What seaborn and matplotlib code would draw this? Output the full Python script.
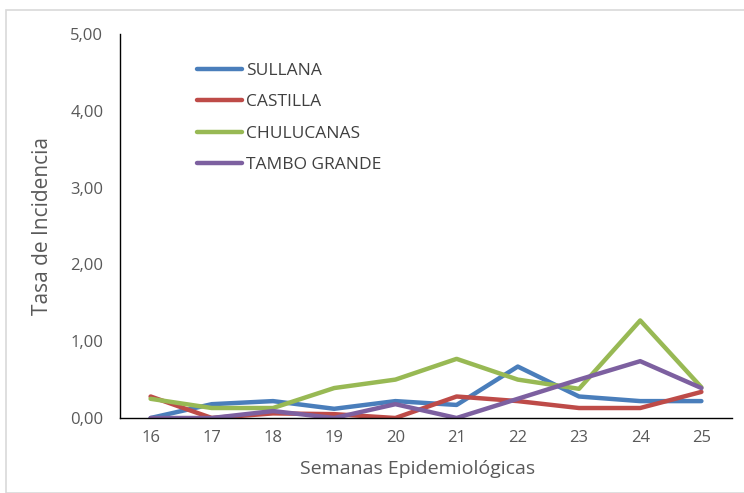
import matplotlib
matplotlib.use("Agg")
import matplotlib.pyplot as plt
import seaborn as sns
import pandas as pd
from matplotlib.patches import Rectangle
from matplotlib.lines import Line2D

semanas = [16, 17, 18, 19, 20, 21, 22, 23, 24, 25]
sullana = [0.00, 0.18, 0.22, 0.12, 0.22, 0.17, 0.67, 0.28, 0.22, 0.22]
castilla = [0.28, 0.00, 0.06, 0.05, 0.00, 0.28, 0.22, 0.13, 0.13, 0.34]
chulucanas = [0.25, 0.13, 0.13, 0.39, 0.50, 0.77, 0.50, 0.38, 1.27, 0.40]
tambo_grande = [0.00, 0.00, 0.09, 0.00, 0.18, 0.00, 0.25, 0.50, 0.74, 0.39]
series_names = ["SULLANA", "CASTILLA", "CHULUCANAS", "TAMBO GRANDE"]
colors = ["#4a7ebb", "#be4b48", "#98b954", "#7d60a0"]
yticks = [0, 1, 2, 3, 4, 5]

rows = []
for name, vals in zip(series_names, [sullana, castilla, chulucanas, tambo_grande]):
    for s, v in zip(semanas, vals):
        rows.append({"Semana": s, "Tasa": v, "Serie": name})
df = pd.DataFrame(rows)

sns.set_theme(style="white")
plt.rcParams["font.family"] = ["Open Sans", "DejaVu Sans"]

fig = plt.figure(figsize=(7.44, 4.93), dpi=100)
ax = fig.add_axes([120/744, 1 - 418/493, 612/744, 384/493])

sns.lineplot(data=df, x="Semana", y="Tasa", hue="Serie", hue_order=series_names,
             palette=colors, linewidth=3.2, ax=ax, legend=False)

ax.set_xlim(15.5, 25.5)
ax.set_ylim(0, 5)
ax.set_xticks(semanas)
ax.set_xticklabels([str(s) for s in semanas])
ax.set_yticks(yticks)
ax.set_yticklabels([f"{v:.2f}".replace(".", ",") for v in yticks])
ax.tick_params(axis="both", length=0, labelsize=12, colors="#595959", pad=9)
ax.tick_params(axis="y", pad=12)
for sp in ["top", "right"]:
    ax.spines[sp].set_visible(False)
ax.spines["left"].set_color("black")
ax.spines["bottom"].set_color("black")
ax.spines["left"].set_linewidth(1.0)
ax.spines["bottom"].set_linewidth(1.0)

ax.set_xlabel("Semanas Epidemiológicas", fontsize=14, color="#595959")
ax.set_ylabel("Tasa de Incidencia", fontsize=15, color="#595959")
ax.xaxis.set_label_coords(0.487, -0.11)
ax.yaxis.set_label_coords(-0.11, 0.5)

handles = [Line2D([0], [0], color=c, lw=3.2, solid_capstyle="round") for c in colors]
leg = ax.legend(handles, series_names, loc="upper left", bbox_to_anchor=(0.1, 0.965),
                frameon=False, fontsize=12.5, handlelength=2.6, handletextpad=0.25,
                labelspacing=0.87)
for t in leg.get_texts():
    t.set_color("#404040")

fig.patches.append(Rectangle((6/744, 0), 1, 1 - 10/493, transform=fig.transFigure,
                             fill=False, edgecolor="#d9d9d9", linewidth=1.2))

fig.savefig("out.png", dpi=100)
